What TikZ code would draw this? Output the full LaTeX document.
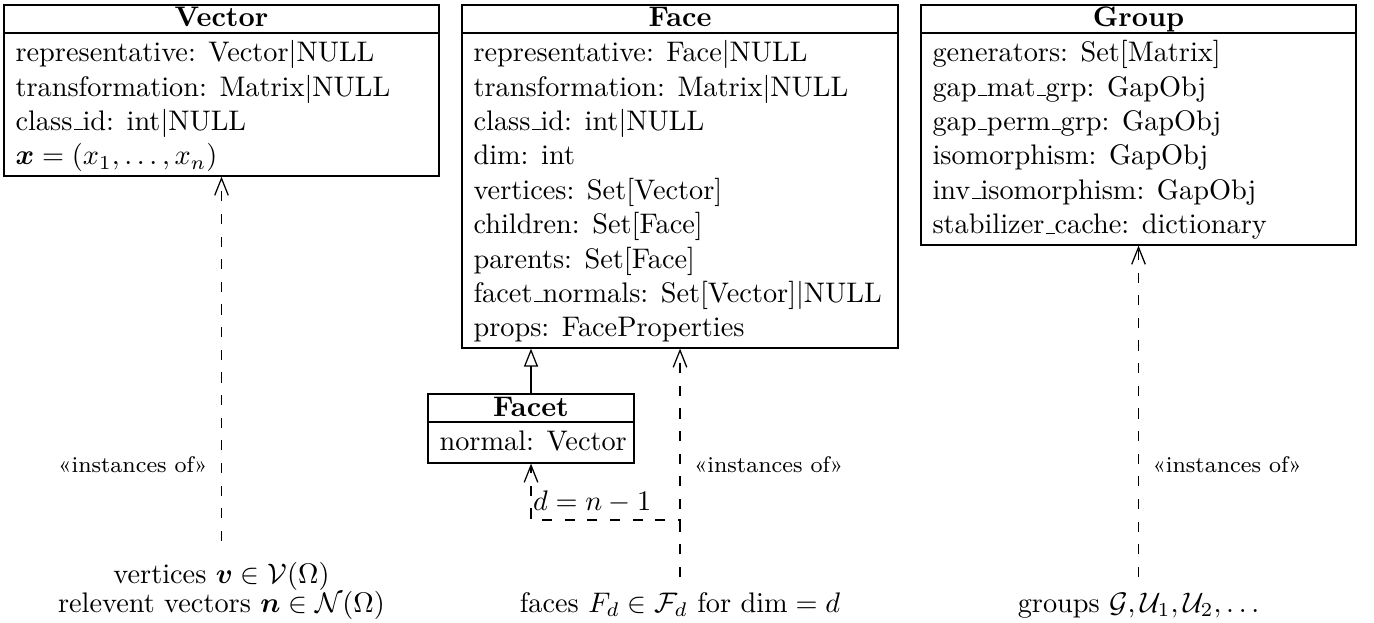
\documentclass[tikz,border=0pt]{standalone}
\usepackage{amsmath}
\usetikzlibrary{arrows.meta,fit}
\newcommand\us{\leavevmode\kern.06em\vbox{\hrule width.3em}}
\begin{document}
\begin{tikzpicture}[x=0.3534pt, y=-0.3534pt,
  box/.style={draw, inner sep=0pt, line width=0.45pt},
  title/.style={font=\bfseries, anchor=base, inner sep=0pt},
  attr/.style={anchor=base west, inner sep=0pt},
  stereo/.style={font=\footnotesize, inner sep=0pt},
  inst/.style={anchor=base, inner sep=0pt},
  dep/.style={dash pattern=on 3.6pt off 4.4pt, line width=0.45pt, -{Straight Barb[length=6pt,width=4.8pt]}},
  gen/.style={line width=0.45pt, -{Triangle[open,length=6.4pt,width=5pt]}}]
\useasboundingbox (0,0) rectangle (1374,623);

% ---------- Vector ----------
\node[box, fit={(4,5)(439,33)}] (vecT) {};
\node[box, fit={(4,33)(439,176)}] (vecB) {};
\node[title] (vecN) at (221.5,27) {Vector};
\node[attr] (vecA1) at (15,61.7) {representative: Vector|NULL};
\node[attr] (vecA2) at (15,96.1) {transformation: Matrix|NULL};
\node[attr] (vecA3) at (15,130.5) {class\us id: int|NULL};
\node[attr] (vecA4) at (15,164.9) {$\boldsymbol{x} = (x_1,\ldots,x_n)$};

% ---------- Face ----------
\node[box, fit={(462,5)(898,33)}] (faceT) {};
\node[box, fit={(462,33)(898,348)}] (faceB) {};
\node[title] (faceN) at (680,27) {Face};
\node[attr] (faceA1) at (473,61.7) {representative: Face|NULL};
\node[attr] (faceA2) at (473,96.1) {transformation: Matrix|NULL};
\node[attr] (faceA3) at (473,130.5) {class\us id: int|NULL};
\node[attr] (faceA4) at (473,164.9) {dim: int};
\node[attr] (faceA5) at (473,199.3) {vertices: Set[Vector]};
\node[attr] (faceA6) at (473,233.7) {children: Set[Face]};
\node[attr] (faceA7) at (473,268.1) {parents: Set[Face]};
\node[attr] (faceA8) at (473,302.5) {facet\us normals: Set[Vector]|NULL};
\node[attr] (faceA9) at (473,336.9) {props: FaceProperties};

% ---------- Group ----------
\node[box, fit={(921,5)(1356,33)}] (groupT) {};
\node[box, fit={(921,33)(1356,245)}] (groupB) {};
\node[title] (groupN) at (1138.5,27) {Group};
\node[attr] (groupA1) at (932,61.7) {generators: Set[Matrix]};
\node[attr] (groupA2) at (932,96.1) {gap\us mat\us grp: GapObj};
\node[attr] (groupA3) at (932,130.5) {gap\us perm\us grp: GapObj};
\node[attr] (groupA4) at (932,164.9) {isomorphism: GapObj};
\node[attr] (groupA5) at (932,199.3) {inv\us isomorphism: GapObj};
\node[attr] (groupA6) at (932,233.7) {stabilizer\us cache: dictionary};

% ---------- Facet ----------
\node[box, fit={(428,394)(634,422)}] (facetT) {};
\node[box, fit={(428,422)(634,463)}] (facetB) {};
\node[title] (facetN) at (531,416.5) {Facet};
\node[attr] (facetA1) at (439,451) {normal: Vector};

% ---------- instance texts ----------
\node[inner sep=0pt, align=center, anchor=south] (vecI) at (221.5,620)
  {vertices $\boldsymbol{v}\in\mathcal{V}(\Omega)$\\[-1.7pt]
   relevent vectors $\boldsymbol{n}\in\mathcal{N}(\Omega)$};
\node[inst] (faceI) at (680,612) {faces $F_d\in\mathcal{F}_d$ for $\dim=d$};
\node[inst] (groupI) at (1138.5,612) {groups $\mathcal{G},\mathcal{U}_1,\mathcal{U}_2,\ldots$};

\coordinate (vecE) at (221.5,541);
\coordinate (faceE) at (680,577);
\coordinate (groupE) at (1138.5,577);
\coordinate (brS) at (680,528);
\coordinate (br) at (680,520);
\coordinate (brL) at (531,520);

% ---------- connectors ----------
\draw[dep] (vecE) -- (vecB.south);
\draw[dep] (faceE) -- (faceB.south);
\draw[dep] (brS) -- (br) -- node[above, inner sep=2.3pt, pos=0.59] (dlab) {$d=n-1$} (brL) -- (facetB.south);
\draw[dep] (groupE) -- (groupB.south);
\draw[gen] (facetT.north) -- (facetT.north |- faceB.south);

\node[stereo, anchor=base east] (vecL) at (208,473) {«instances of»};
\node[stereo, anchor=base west] (faceL) at (693.5,473) {«instances of»};
\node[stereo, anchor=base west] (groupL) at (1152,473) {«instances of»};
\end{tikzpicture}
\end{document}
